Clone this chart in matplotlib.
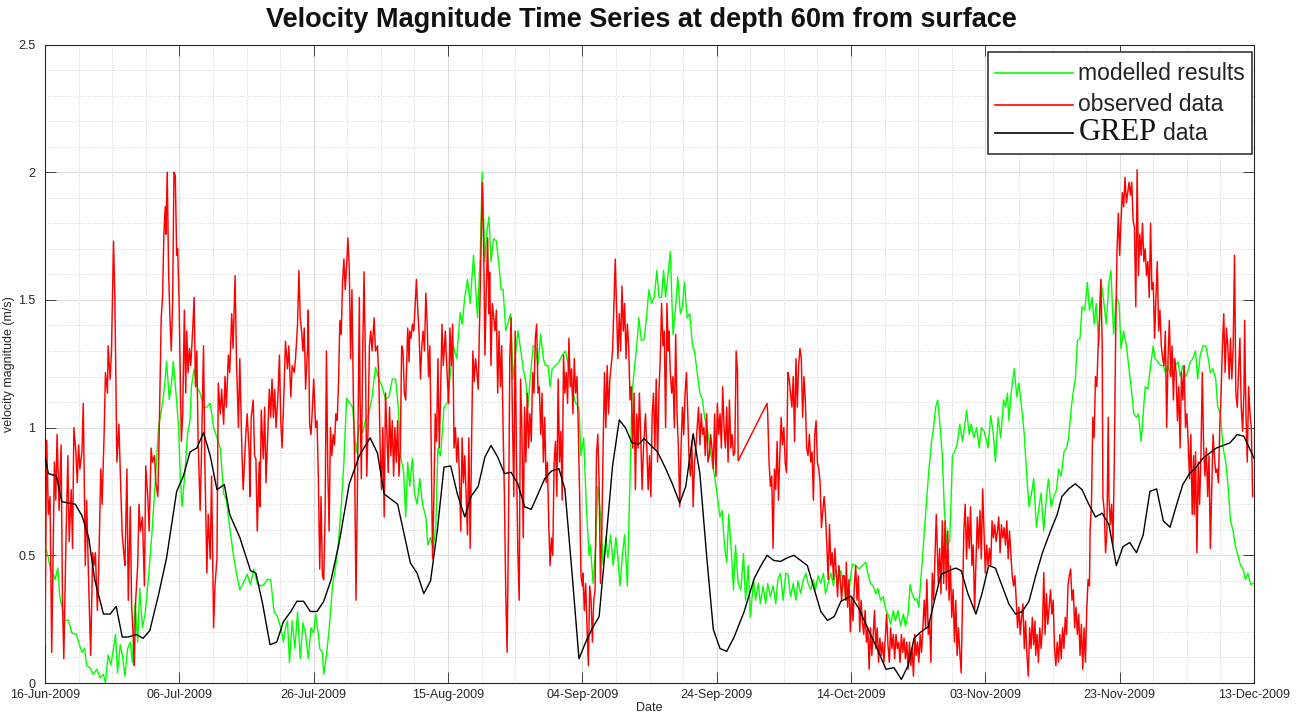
import datetime as dt
import numpy as np
import matplotlib
matplotlib.use("Agg")
import matplotlib.pyplot as plt
import matplotlib.dates as mdates
from matplotlib.lines import Line2D
from matplotlib.ticker import FuncFormatter, MultipleLocator
from matplotlib.offsetbox import (AnchoredOffsetbox, DrawingArea, HPacker,
                                  TextArea, VPacker)

plt.rcParams['font.family'] = ['Liberation Sans', 'DejaVu Sans']

# ---------------------------------------------------------------- data ----
# time is given in days after 16-Jun-2009 00:00
tick_labels = ['16-Jun-2009', '06-Jul-2009', '26-Jul-2009', '15-Aug-2009',
               '04-Sep-2009', '24-Sep-2009', '14-Oct-2009', '03-Nov-2009',
               '23-Nov-2009', '13-Dec-2009']
y_ticks = [0, 0.5, 1.0, 1.5, 2.0, 2.5]

# modelled results (green)
model_day = [
    0, 0.5, 0.75, 1.2, 1.5, 1.9, 2.2, 2.5, 3.0, 3.5, 4.0, 4.7, 5.0, 5.5, 5.9,
    6.2, 6.7, 7.2, 7.7, 8.2, 8.7, 9.0, 9.4, 9.8, 10.2, 10.5, 10.8, 11.2, 11.5,
    11.9, 12.3, 12.7, 13.0, 13.4, 13.8, 14.1, 14.5, 14.9, 15.4, 15.9, 16.4,
    16.9, 17.4, 17.8, 18.1, 18.5, 18.9, 19.1, 19.5, 19.9, 20.1, 20.4, 20.8,
    21.2, 21.6, 21.8, 22.2, 22.6, 23.1, 23.6, 24.1, 24.6, 25.1, 25.6, 26.1,
    26.6, 27.0, 27.5, 28.0, 28.5, 29.0, 29.5,
    30.1, 30.6, 31.1, 31.6, 32.1, 32.6, 33.1, 33.6, 34.1, 34.6, 35.1, 35.5,
    35.8, 36.1, 36.4, 36.8, 37.2, 37.6, 38.0, 38.4, 38.8, 39.2, 39.6, 40.0,
    40.3, 40.7, 40.9, 41.3, 41.5, 41.9, 42.3, 42.8, 43.3, 43.7, 44.1, 44.5,
    44.9, 45.4, 45.8, 46.3, 46.8, 47.3, 47.7, 48.2, 48.7, 49.2, 49.7, 50.2,
    50.7, 51.2, 51.7, 52.2, 52.6, 53.0, 53.4, 53.7, 54.0, 54.3, 54.7, 55.0,
    55.4, 55.8, 56.2, 56.7, 57.0, 57.4, 57.8, 58.2, 58.5, 58.9,
    59.4, 59.9, 60.3, 60.8, 61.3, 61.8, 62.1, 62.5, 62.9, 63.3, 63.8, 64.4,
    64.8, 65.1, 65.5, 65.8, 66.1, 66.4, 66.8, 67.2, 67.6, 67.9, 68.2, 68.6,
    68.9, 69.3, 69.7, 70.1, 70.4, 70.8, 71.2, 71.6, 71.9, 72.3, 72.7, 73.0,
    73.4, 73.8, 74.2, 74.5, 74.9, 75.2, 75.5, 76.0, 76.5, 77.0, 77.5, 78.0,
    78.5, 79.0, 79.5, 79.8, 80.2, 80.6, 81.0, 81.2, 81.6, 82.0, 82.3, 82.7,
    83.1, 83.5, 83.8, 84.2, 84.6, 85.0, 85.3, 85.6, 86.0, 86.3, 86.7, 87.1,
    87.4, 87.8, 88.2, 88.4, 88.8,
    89.2, 89.6, 89.9, 90.3, 90.7, 91.1, 91.4, 91.8, 92.1, 92.4, 92.8, 93.1,
    93.5, 93.9, 94.2, 94.6, 94.9, 95.2, 95.6, 96.0, 96.4, 96.7, 97.1, 97.5,
    97.9, 98.2, 98.6, 99.0, 99.4, 99.7, 100.1, 100.5, 100.8, 101.2, 101.5,
    101.8, 102.2, 102.5, 102.8, 103.2, 103.6, 104.0, 104.3, 104.7, 105.0,
    105.5, 105.8, 106.2, 106.5, 106.9, 107.3, 107.6, 108.0, 108.4, 108.8,
    109.1, 109.5, 109.9, 110.3, 110.6, 111.0, 111.4, 111.8, 112.1, 112.5,
    112.9, 113.3, 113.6, 114.0, 114.4, 114.7, 115.1, 115.5, 115.9, 116.2,
    116.6, 117.0, 117.4, 117.7, 118.1, 118.5, 118.9,
    119.3, 119.7, 120.2, 120.7, 121.2, 121.7, 122.2, 122.5, 122.9, 123.3,
    123.7, 124.0, 124.4, 124.8, 125.2, 125.5, 125.9, 126.3, 126.6, 127.0,
    127.4, 127.8, 128.1, 128.5, 128.8, 129.1, 129.5, 129.8, 130.1, 130.5,
    130.9, 131.3, 131.6, 132.0, 132.3, 132.6, 132.9, 133.2, 133.6, 133.9,
    134.3, 134.7, 135.1, 135.4, 135.8, 136.2, 136.6, 136.9, 137.2, 137.6,
    137.9, 138.3, 138.7, 139.1, 139.4, 139.8, 140.2, 140.4, 140.8, 141.2,
    141.5, 141.9, 142.3, 142.7, 143.0, 143.3, 143.5, 143.9, 144.3, 144.7,
    145.0, 145.4, 145.8, 146.1, 146.5, 146.8, 147.2, 147.6, 148.0, 148.3,
    148.7, 149.1, 149.4, 149.8, 150.2, 150.6, 150.9, 151.3, 151.7, 152.1,
    152.4, 152.8, 153.2, 153.4, 153.7, 154.1, 154.4, 154.8, 155.2, 155.5,
    155.9, 156.2, 156.5, 156.9, 157.2, 157.6, 158.0, 158.4, 158.7, 159.1,
    159.5, 159.9, 160.2, 160.6, 161.0, 161.4, 161.7, 162.1, 162.5, 162.8,
    163.2, 163.5, 163.8, 164.2, 164.6, 165.0, 165.3, 165.7, 166.1, 166.5,
    166.8, 167.2, 167.6, 168.0, 168.3, 168.7, 169.0, 169.4, 169.8, 170.1,
    170.5, 170.9, 171.3, 171.6, 172.0, 172.4, 172.8, 173.1, 173.5, 173.9,
    174.3, 174.6, 175.0, 175.4, 175.8, 176.1, 176.5, 176.9, 177.2, 177.6,
    178.0, 178.4, 178.7, 179.1, 179.5, 179.9]
model_vel = [
    0.54, 0.49, 0.45, 0.43, 0.405, 0.45, 0.34, 0.30, 0.245, 0.245, 0.196,
    0.19, 0.16, 0.12, 0.135, 0.068, 0.06, 0.034, 0.054, 0.02, 0.034, 0.0,
    0.11, 0.07, 0.135, 0.19, 0.04, 0.15, 0.11, 0.027, 0.135, 0.16, 0.08, 0.31,
    0.16, 0.37, 0.216, 0.27, 0.41, 0.58, 0.78, 1.0, 1.08, 1.16, 1.26, 1.11,
    1.19, 1.26, 1.135, 1.0, 0.84, 0.69, 0.81, 0.97, 1.03, 1.16, 1.23, 1.16,
    1.135, 1.08, 1.08, 1.095, 1.0, 0.96, 0.92, 0.74, 0.72, 0.61, 0.51, 0.43,
    0.365, 0.39,
    0.426, 0.385, 0.446, 0.39, 0.38, 0.385, 0.405, 0.405, 0.28, 0.26, 0.216,
    0.16, 0.216, 0.243, 0.08, 0.243, 0.135, 0.277, 0.095, 0.236, 0.19, 0.095,
    0.216, 0.196, 0.27, 0.19, 0.135, 0.12, 0.034, 0.108, 0.21, 0.38, 0.46,
    0.554, 0.69, 0.865, 1.115, 1.095, 1.08, 0.90, 1.01, 0.98, 1.027, 1.054,
    1.12, 1.236, 1.19, 1.16, 1.11, 1.12, 1.19, 1.19, 1.08, 0.88, 0.824, 0.65,
    0.865, 0.77, 0.88, 0.743, 0.70, 0.80, 0.70, 0.65, 0.54, 0.57, 0.527, 0.62,
    0.92, 0.89,
    1.08, 1.095, 1.2, 1.32, 1.27, 1.45, 1.405, 1.51, 1.58, 1.486, 1.675, 1.43,
    1.675, 2.0, 1.65, 1.77, 1.825, 1.65, 1.74, 1.73, 1.635, 1.54, 1.54, 1.38,
    1.405, 1.446, 1.19, 1.3, 1.38, 1.31, 1.23, 1.175, 1.08, 1.216, 1.32, 1.32,
    1.243, 1.365, 1.27, 1.243, 1.243, 1.16, 1.23, 1.243, 1.257, 1.284, 1.3,
    1.23, 1.15, 1.095, 1.08, 0.89, 0.96, 0.69, 0.5, 0.54, 0.39, 0.54, 0.77,
    0.66, 0.46, 0.57, 0.49, 0.58, 0.46, 0.57, 0.49, 0.38, 0.51, 0.58, 0.38,
    0.80, 1.135, 1.243, 1.35, 1.43, 1.34,
    1.345, 1.446, 1.54, 1.486, 1.51, 1.615, 1.51, 1.51, 1.615, 1.51, 1.615,
    1.69, 1.365, 1.473, 1.59, 1.446, 1.473, 1.57, 1.43, 1.446, 1.32, 1.3,
    1.216, 1.135, 1.108, 1.04, 1.0, 0.92, 0.85, 0.81, 0.73, 0.65, 0.676,
    0.527, 0.473, 0.66, 0.51, 0.365, 0.54, 0.39, 0.365, 0.507, 0.324, 0.46,
    0.257, 0.405, 0.324, 0.39, 0.31, 0.38, 0.31, 0.39, 0.338, 0.38, 0.31,
    0.405, 0.43, 0.324, 0.43, 0.426, 0.338, 0.39, 0.324, 0.40, 0.35, 0.405,
    0.43, 0.39, 0.365, 0.405, 0.365, 0.42, 0.39, 0.43, 0.35, 0.39, 0.43, 0.38,
    0.446, 0.39, 0.44, 0.38,
    0.324, 0.365, 0.466, 0.46, 0.446, 0.46, 0.473, 0.43, 0.39, 0.38, 0.35,
    0.37, 0.324, 0.338, 0.284, 0.27, 0.23, 0.284, 0.243, 0.284, 0.223, 0.27,
    0.223, 0.27, 0.385, 0.35, 0.324, 0.33, 0.297, 0.44, 0.58, 0.73, 0.838,
    0.946, 1.0, 1.08, 1.108, 1.027, 0.89, 0.676, 0.54, 0.554, 0.89, 0.905,
    0.932, 1.0135, 0.946, 1.0, 1.068, 0.973, 1.0135, 0.96, 1.0, 0.92, 1.0,
    0.986, 0.946, 0.92, 1.047, 0.973, 0.865, 1.04, 0.96, 1.108, 1.08, 1.135,
    1.027, 1.15, 1.23, 1.12, 1.175, 1.08, 0.973, 0.838, 0.69, 0.73, 0.80,
    0.61, 0.69, 0.743,
    0.595, 0.73, 0.80, 0.69, 0.73, 0.757, 0.838, 0.81, 0.905, 0.92, 0.96,
    1.08, 1.16, 1.19, 1.34, 1.35, 1.473, 1.46, 1.568, 1.46, 1.51, 1.405,
    1.486, 1.32, 1.58, 1.5, 1.405, 1.568, 1.615, 1.365, 1.51, 1.486, 1.31,
    1.378, 1.32, 1.23, 1.16, 1.054, 1.04, 1.054, 0.946, 1.054, 1.16, 1.15,
    1.243, 1.32, 1.27, 1.257, 1.243, 1.243, 1.216, 1.243, 1.2, 1.27, 1.243,
    1.257, 1.2, 1.243, 1.2, 1.216, 1.257, 1.27, 1.3, 1.19, 1.284, 1.32, 1.32,
    1.284, 1.216, 1.23, 1.19, 1.08, 1.054, 0.92, 0.865, 0.784, 0.635, 0.595,
    0.54, 0.5, 0.46, 0.446, 0.405, 0.43, 0.385, 0.39]

# observed data (red); the record has a gap between day 103.2 and 107.5
obs_day_jun = [
    0, 0.25, 0.5, 0.75, 1.0, 1.4, 1.6, 1.8, 2.1, 2.4, 2.6, 2.8, 3.1, 3.4, 3.6,
    3.9, 4.1, 4.3, 4.6, 4.8, 5.0, 5.2, 5.5, 5.7, 6.0, 6.2, 6.5, 6.6, 6.8, 7.1,
    7.3, 7.5, 7.8, 8.0, 8.3, 8.5, 8.8, 9.0, 9.3, 9.4, 9.7, 9.9, 10.2, 10.4,
    10.7, 11.0, 11.3, 11.5, 11.8, 11.9, 12.2, 12.4, 12.7, 12.9, 13.2, 13.3,
    13.5, 13.8, 14.0, 14.2, 14.5, 14.8, 15.0, 15.3, 15.5, 15.8, 16.0, 16.3,
    16.5, 16.8, 17.0, 17.3, 17.5, 17.7, 17.9, 18.0, 18.2, 18.4, 18.6, 18.8,
    19.0, 19.2, 19.4, 19.6, 19.75, 19.95, 20.15, 20.3, 20.5, 20.75, 20.95,
    21.1, 21.3, 21.5, 21.7, 22.0, 22.2, 22.4, 22.6, 22.8, 23.1, 23.3, 23.6,
    23.8, 24.1, 24.3, 24.6, 24.8, 25.1, 25.3, 25.6, 25.8, 26.1, 26.3, 26.6,
    26.8, 27.0, 27.3, 27.5, 27.8, 28.0, 28.3, 28.5, 28.8, 29.0, 29.3, 29.5]
obs_vel_jun = [
    0.15, 0.95, 0.66, 0.73, 0.12, 0.865, 0.716, 0.973, 0.676, 0.932, 0.324,
    0.095, 0.527, 0.89, 0.554, 0.757, 0.527, 1.0, 0.905, 0.784, 0.932, 0.838,
    0.905, 1.095, 0.46, 0.716, 0.39, 0.3, 0.108, 0.51, 0.46, 0.51, 0.284,
    0.446, 0.838, 0.70, 0.973, 1.216, 1.135, 1.32, 1.19, 1.3, 1.73, 1.51,
    0.865, 1.0135, 0.743, 0.58, 0.486, 0.46, 0.838, 0.324, 0.69, 0.297, 0.15,
    0.068, 0.324, 0.46, 0.70, 0.595, 0.65, 0.38, 0.85, 0.73, 0.595, 0.92,
    0.865, 0.89, 0.784, 0.73, 0.973, 1.43, 1.51, 1.757, 1.865, 1.757, 2.0,
    1.61, 1.43, 1.3, 1.486, 2.0, 1.986, 1.675, 1.70, 1.51, 1.2, 0.946, 1.054,
    1.46, 1.135, 1.378, 1.216, 1.31, 1.243, 1.39, 1.51, 1.16, 1.3, 0.946,
    0.676, 0.905, 1.32, 0.865, 0.43, 0.66, 0.486, 0.81, 0.216, 0.38, 0.486,
    1.175, 1.054, 1.15, 1.0135, 1.2, 1.08, 1.284, 1.216, 1.446, 1.31, 1.595,
    1.27, 1.0, 1.27, 0.92, 0.757]
obs_day_jul = [
    29.9, 30.1, 30.4, 30.5, 30.7, 31.0, 31.2, 31.4, 31.6, 31.9, 32.0, 32.2,
    32.5, 32.7, 32.9, 33.1, 33.4, 33.6, 33.8, 34.0, 34.2, 34.4, 34.7, 34.9,
    35.1, 35.3, 35.6, 35.8, 36.1, 36.3, 36.6, 36.8, 37.1, 37.3, 37.6, 37.8,
    38.0, 38.2, 38.4, 38.6, 38.8, 39.1, 39.2, 39.4, 39.6, 39.8, 40.0, 40.3,
    40.5, 40.7, 40.9, 41.1, 41.3, 41.5, 41.7, 41.9, 42.1, 42.3, 42.5, 42.7,
    42.9, 43.1, 43.3, 43.5, 43.7, 43.9, 44.1, 44.3, 44.5, 44.7, 44.9, 45.1,
    45.3, 45.5, 45.7, 45.9, 46.1, 46.3, 46.5, 46.8, 46.9, 47.1, 47.3, 47.5,
    47.7, 47.9, 48.1, 48.3, 48.5, 48.7, 49.0, 49.2, 49.5, 49.7, 49.9, 50.1,
    50.3, 50.5, 50.7, 50.9, 51.1, 51.3, 51.5, 51.7, 51.9, 52.1, 52.3, 52.5,
    52.7, 52.9, 53.1, 53.3, 53.5, 53.7, 54.0, 54.2, 54.3, 54.5, 54.7, 54.9,
    55.1, 55.3, 55.5, 55.7, 55.9, 56.1, 56.3, 56.5, 56.7, 56.9, 57.1, 57.3,
    57.5, 57.7, 57.9, 58.1, 58.3, 58.5, 58.7, 58.9, 59.1, 59.3]
obs_vel_jul = [
    0.973, 1.054, 0.905, 0.73, 1.04, 1.108, 0.89, 0.878, 0.595, 0.865, 0.69,
    1.068, 0.878, 1.08, 0.784, 0.932, 1.15, 1.04, 1.19, 1.04, 1.15, 1.0,
    1.135, 1.284, 1.027, 0.92, 1.16, 1.338, 1.23, 1.32, 1.12, 1.243, 1.216,
    1.27, 1.405, 1.615, 1.43, 1.378, 1.3, 1.39, 1.15, 1.32, 1.46, 1.0135,
    0.973, 1.068, 1.19, 1.0, 1.027, 0.8, 0.446, 0.73, 0.42, 0.405, 0.65, 1.3,
    0.838, 0.595, 1.0, 0.89, 0.973, 0.932, 1.054, 1.027, 1.175, 1.42, 1.365,
    1.568, 1.66, 1.54, 1.635, 1.743, 1.62, 1.27, 1.54, 1.135, 0.865, 0.324,
    0.73, 1.51, 1.135, 0.8, 1.3, 1.61, 1.27, 0.81, 1.0, 1.32, 1.378, 1.3,
    1.43, 1.3, 1.32, 1.19, 0.92, 0.757, 1.0, 0.65, 1.135, 0.973, 0.824, 1.08,
    0.89, 1.027, 0.81, 1.0, 0.865, 1.027, 0.81, 0.92, 1.32, 1.3, 1.135,
    1.108, 1.39, 1.257, 1.378, 1.35, 1.405, 1.378, 1.473, 1.58, 1.46, 1.365,
    1.19, 1.32, 1.378, 1.3, 1.527, 1.405, 1.2, 1.32, 0.92, 0.486, 0.73,
    1.054, 0.946, 1.27, 0.92, 1.135, 1.405, 1.243]
obs_day_aug = [
    59.6, 59.9, 60.1, 60.3, 60.5, 60.7, 60.9, 61.1, 61.3, 61.5, 61.7, 61.9,
    62.1, 62.3, 62.5, 62.7, 62.9, 63.1, 63.3, 63.5, 63.7, 63.9, 64.1, 64.3,
    64.5, 64.7, 64.9, 65.1, 65.3, 65.5, 65.7, 65.9, 66.1, 66.2, 66.4, 66.6,
    66.8, 67.0, 67.2, 67.4, 67.6, 67.8, 68.0, 68.2, 68.4, 68.6, 68.8, 69.0,
    69.2, 69.4, 69.6, 69.8, 70.0, 70.2, 70.4, 70.6, 70.8, 71.0, 71.2, 71.4,
    71.6, 71.8, 72.0, 72.2, 72.4, 72.6, 72.8, 73.0, 73.2, 73.4, 73.6, 73.8,
    74.0, 74.2, 74.4, 74.6, 74.8, 75.0, 75.2, 75.4, 75.6, 75.8, 76.0, 76.2,
    76.4, 76.6, 76.8, 77.0, 77.2, 77.4, 77.6, 77.8, 78.0, 78.2, 78.4, 78.6,
    78.8, 79.0, 79.2, 79.4, 79.6, 79.8, 80.0, 80.1, 80.3, 80.5, 80.7, 80.9,
    81.1, 81.3, 81.5, 81.7, 81.9, 82.1, 82.3, 82.5, 82.7, 82.9, 83.1, 83.3,
    83.5, 83.7, 83.9, 84.1, 84.3, 84.5, 84.7, 84.9, 85.1, 85.3, 85.5, 85.7,
    85.9, 86.1, 86.3, 86.5, 86.7, 86.9, 87.1, 87.3, 87.5, 87.7, 87.9, 88.1,
    88.3, 88.5, 88.7, 88.9, 89.1]
obs_vel_aug = [
    1.378, 1.19, 1.095, 1.39, 1.243, 1.405, 0.92, 1.0, 0.865, 0.96, 0.81,
    0.595, 0.96, 0.784, 0.89, 0.73, 0.58, 0.96, 0.527, 0.92, 1.3, 1.18, 1.27,
    1.216, 1.15, 1.405, 1.675, 1.96, 1.73, 1.284, 1.54, 1.743, 1.446, 1.608,
    1.243, 1.486, 1.43, 1.378, 1.46, 1.135, 1.378, 1.16, 1.32, 1.0, 0.73,
    0.35, 0.12, 0.595, 1.27, 1.43, 1.027, 0.73, 1.378, 0.865, 0.51, 0.324,
    1.19, 1.0, 0.568, 1.08, 0.865, 1.135, 0.92, 1.054, 0.946, 1.216, 1.135,
    1.35, 1.405, 1.135, 1.16, 0.973, 1.135, 0.865, 1.04, 0.784, 0.865, 0.62,
    0.46, 0.568, 0.5, 0.865, 0.946, 0.73, 1.19, 0.865, 0.986, 0.716, 1.284,
    1.135, 1.216, 1.095, 1.35, 1.16, 1.23, 1.054, 1.27, 1.135, 1.2, 1.0, 0.73,
    0.42, 0.38, 0.43, 0.284, 0.39, 0.216, 0.068, 0.38, 0.324, 0.16, 0.324,
    0.365, 0.89, 0.973, 0.784, 0.39, 0.595, 0.932, 1.216, 1.0, 1.243, 1.054,
    1.19, 1.243, 1.3, 1.486, 1.66, 1.46, 1.27, 1.446, 1.3, 1.554, 1.378,
    1.486, 1.27, 1.405, 1.32, 1.108, 1.16, 0.92, 1.135, 0.757, 1.054, 0.92,
    1.135, 0.96, 0.757, 0.92]
obs_day_sep = [
    89.4, 89.6, 89.8, 90.0, 90.2, 90.4, 90.6, 90.8, 91.0, 91.2, 91.4, 91.6,
    91.8, 92.0, 92.2, 92.4, 92.6, 92.8, 92.9, 93.1, 93.3, 93.5, 93.7, 93.9,
    94.1, 94.3, 94.5, 94.7, 94.9, 95.1, 95.3, 95.5, 95.7, 95.9, 96.1, 96.3,
    96.5, 96.7, 96.9, 97.1, 97.3, 97.5, 97.7, 97.9, 98.1, 98.3, 98.5, 98.7,
    98.9, 99.1, 99.3, 99.5, 99.7, 99.9, 100.1, 100.3, 100.5, 100.7, 100.9,
    101.1, 101.3, 101.5, 101.7, 101.9, 102.1, 102.3, 102.5, 102.7, 102.9,
    103.1, 103.2,
    107.5, 107.6, 107.8, 108.0, 108.2, 108.4, 108.6, 108.8, 109.0, 109.2,
    109.4, 109.6, 109.8, 110.0, 110.2, 110.4, 110.6, 110.8, 111.0, 111.2,
    111.4, 111.6, 111.8, 112.0, 112.2, 112.4, 112.6, 112.8, 113.0, 113.2,
    113.4, 113.6, 113.8, 114.0, 114.2, 114.4, 114.6, 114.8, 115.0, 115.2,
    115.4, 115.6, 115.8, 116.0, 116.2, 116.4, 116.6, 116.8, 117.0, 117.2,
    117.4, 117.6, 117.8, 118.0, 118.2, 118.4, 118.6, 118.8]
obs_vel_sep = [
    1.054, 0.92, 0.757, 0.89, 0.73, 1.054, 1.135, 0.92, 1.19, 0.865, 1.135,
    1.27, 1.486, 1.32, 1.378, 1.0, 1.486, 1.3, 1.378, 1.216, 1.135, 1.2, 1.0,
    1.365, 1.054, 0.92, 0.69, 0.92, 1.08, 0.973, 1.135, 1.216, 1.054, 0.865,
    0.81, 0.946, 0.69, 0.865, 0.92, 1.0, 1.08, 0.932, 1.054, 0.973, 1.0,
    0.89, 1.054, 0.865, 0.89, 0.973, 0.92, 0.838, 1.054, 0.81, 1.095, 0.973,
    1.054, 0.92, 1.16, 1.0, 0.92, 1.08, 0.865, 1.108, 0.92, 0.973, 0.89,
    0.905, 1.3, 1.216, 0.87,
    1.095, 1.054, 0.865, 0.77, 0.81, 0.527, 0.838, 0.757, 0.946, 0.716, 0.89,
    1.04, 0.932, 1.0, 0.865, 0.824, 1.216, 1.19, 1.135, 1.08, 1.2, 0.946,
    1.27, 1.08, 1.243, 1.31, 1.27, 1.04, 1.2, 1.108, 0.92, 0.89, 0.973,
    0.865, 0.905, 0.716, 0.973, 1.027, 0.865, 0.838, 0.784, 0.608, 0.676,
    0.73, 0.66, 0.54, 0.405, 0.62, 0.46, 0.51, 0.405, 0.527, 0.43, 0.338,
    0.46, 0.405, 0.324, 0.42]
obs_day_oct = [
    119.0, 119.2, 119.3, 119.5, 119.7, 119.9, 120.1, 120.3, 120.5, 120.7,
    120.9, 121.1, 121.3, 121.5, 121.7, 121.9, 122.1, 122.3, 122.5, 122.7,
    122.9, 123.1, 123.3, 123.5, 123.7, 123.9, 124.1, 124.3, 124.5, 124.7,
    124.9, 125.1, 125.3, 125.5, 125.7, 125.9, 126.1, 126.3, 126.5, 126.7,
    126.9, 127.1, 127.3, 127.5, 127.7, 127.9, 128.1, 128.3, 128.5, 128.7,
    128.9, 129.1, 129.3, 129.5, 129.7, 129.9, 130.1, 130.3, 130.5, 130.7,
    130.9, 131.1, 131.3, 131.5, 131.7, 131.9, 132.1, 132.3, 132.5, 132.7,
    132.9, 133.0, 133.2, 133.4, 133.6, 133.8, 134.0, 134.2, 134.4, 134.6,
    134.8, 135.0, 135.2, 135.4, 135.6, 135.8, 136.0, 136.2, 136.4, 136.6,
    136.8, 137.0, 137.2, 137.4, 137.6, 137.8, 138.0, 138.2, 138.4, 138.6,
    138.8, 139.0, 139.2, 139.4, 139.6, 139.8, 140.0, 140.2, 140.4, 140.6,
    140.8, 141.0, 141.2, 141.4, 141.6, 141.8, 142.0, 142.2, 142.4, 142.6,
    142.8, 143.0, 143.2, 143.4, 143.6, 143.8, 144.0, 144.2, 144.4, 144.6,
    144.8, 145.0, 145.2, 145.4, 145.6, 145.8, 146.0, 146.2, 146.4, 146.6,
    146.8, 147.0, 147.2, 147.4, 147.5, 147.7, 147.9, 148.1, 148.3, 148.5]
obs_vel_oct = [
    0.42, 0.324, 0.473, 0.297, 0.405, 0.2, 0.338, 0.243, 0.38, 0.46, 0.324,
    0.42, 0.2, 0.324, 0.243, 0.19, 0.284, 0.16, 0.216, 0.054, 0.216, 0.108,
    0.19, 0.284, 0.135, 0.216, 0.081, 0.176, 0.108, 0.16, 0.081, 0.176, 0.27,
    0.15, 0.081, 0.216, 0.135, 0.19, 0.095, 0.19, 0.135, 0.16, 0.081, 0.19,
    0.12, 0.176, 0.095, 0.16, 0.054, 0.16, 0.068, 0.135, 0.027, 0.19, 0.108,
    0.16, 0.081, 0.19, 0.12, 0.216, 0.324, 0.216, 0.405, 0.19, 0.243, 0.081,
    0.43, 0.324, 0.486, 0.66, 0.486, 0.39, 0.527, 0.35, 0.635, 0.39, 0.635,
    0.365, 0.595, 0.324, 0.46, 0.257, 0.365, 0.16, 0.324, 0.108, 0.216, 0.12,
    0.04, 0.324, 0.595, 0.70, 0.486, 0.65, 0.527, 0.69, 0.46, 0.54, 0.284,
    0.46, 0.65, 0.527, 0.676, 0.486, 0.76, 0.595, 0.43, 0.54, 0.46, 0.527,
    0.46, 0.635, 0.568, 0.62, 0.554, 0.595, 0.65, 0.51, 0.62, 0.568, 0.608,
    0.54, 0.635, 0.486, 0.595, 0.51, 0.42, 0.38, 0.42, 0.324, 0.216, 0.297,
    0.19, 0.257, 0.31, 0.135, 0.243, 0.108, 0.027, 0.216, 0.135, 0.257, 0.15,
    0.243, 0.108, 0.19, 0.081, 0.216, 0.135, 0.216]
obs_day_nov = [
    148.7, 148.9, 149.1, 149.3, 149.5, 149.7, 149.9, 150.1, 150.3, 150.5,
    150.7, 150.9, 151.1, 151.3, 151.5, 151.7, 151.9, 152.1, 152.3, 152.5,
    152.7, 152.9, 153.1, 153.3, 153.5, 153.7, 153.9, 154.1, 154.3, 154.5,
    154.7, 154.9, 155.1, 155.3, 155.5, 155.6, 155.8, 156.0, 156.2, 156.4,
    156.6, 156.8, 157.0, 157.2, 157.4, 157.5, 157.7, 157.9, 158.1, 158.3,
    158.4, 158.6, 158.8, 159.0, 159.2, 159.4, 159.6, 159.8, 160.0, 160.2,
    160.4, 160.6, 160.8, 161.0, 161.2, 161.4, 161.6, 161.8, 162.0, 162.2,
    162.4, 162.6, 162.8, 163.0, 163.2, 163.4, 163.6, 163.8, 164.0, 164.2,
    164.4, 164.6, 164.8, 165.0, 165.2, 165.4, 165.6, 165.8, 166.0, 166.2,
    166.4, 166.6, 166.8, 167.0, 167.2, 167.4, 167.6, 167.8, 168.0, 168.2,
    168.4, 168.6, 168.8, 169.0, 169.2, 169.4, 169.6, 169.8, 170.0, 170.2,
    170.4, 170.6, 170.8, 171.0, 171.1, 171.3, 171.5, 171.7, 171.9, 172.1,
    172.3, 172.5, 172.7, 172.9, 173.1, 173.3, 173.5, 173.7, 173.9, 174.1,
    174.3, 174.5, 174.7, 174.9, 175.1, 175.3, 175.5, 175.7, 175.9, 176.1,
    176.3, 176.5, 176.7, 176.9, 177.1, 177.3, 177.5, 177.7, 177.9, 178.1,
    178.3, 178.5, 178.6, 178.8, 179.0, 179.2, 179.4, 179.6, 179.8]
obs_vel_nov = [
    0.432, 0.19, 0.35, 0.23, 0.297, 0.365, 0.27, 0.324, 0.135, 0.068, 0.16,
    0.081, 0.19, 0.095, 0.216, 0.135, 0.257, 0.19, 0.38, 0.42, 0.446, 0.324,
    0.365, 0.216, 0.297, 0.19, 0.27, 0.108, 0.23, 0.054, 0.216, 0.081, 0.284,
    0.405, 0.38, 0.595, 0.70, 1.04, 0.96, 1.2, 1.16, 1.32, 1.43, 1.58, 1.32,
    0.73, 0.676, 0.51, 0.595, 1.04, 0.73, 0.62, 0.70, 0.54, 0.865, 1.35,
    1.69, 1.84, 1.675, 1.81, 1.92, 1.865, 1.98, 1.88, 1.92, 1.96, 1.91, 1.96,
    1.81, 1.784, 1.473, 2.01, 1.595, 1.757, 1.675, 1.8, 1.65, 1.70, 1.595,
    1.65, 1.51, 1.8, 1.54, 1.568, 1.35, 1.51, 1.65, 1.378, 1.46, 1.32, 1.27,
    1.243, 1.378, 1.0, 1.27, 1.42, 1.2, 1.32, 1.108, 1.27, 1.216, 1.027,
    1.16, 0.92, 1.216, 1.108, 1.243, 1.0, 1.054, 0.946, 0.8, 0.973, 0.66,
    0.89, 0.66, 0.905, 0.51, 0.865, 0.70, 0.89, 1.216, 0.92, 0.81, 0.92,
    0.73, 0.89, 0.527, 0.743, 0.973, 0.89, 0.824, 0.838, 0.784, 1.0, 1.135,
    1.32, 1.446, 1.216, 1.39, 1.32, 1.19, 1.35, 1.19, 1.32, 1.675, 1.135,
    1.08, 1.216, 1.35, 1.08, 0.986, 1.135, 1.42, 1.054, 0.865, 1.16, 1.054,
    1.0, 0.73]

# GREP data (black)
grep_day = [
    0, 0.5, 1.7, 2.5, 4.5, 5.5, 6.5, 7.4, 8.7, 9.7, 10.6, 11.5, 12.4, 13.6,
    14.6, 15.6, 16.9, 18.1, 19.6, 20.6, 21.6, 22.6, 23.6, 24.6, 25.6, 26.7,
    27.5, 29.0, 30.6, 31.4, 32.4, 33.5, 34.5, 35.5, 36.6, 37.5, 38.5, 39.5,
    40.5, 41.5, 42.6, 43.8, 45.3, 46.8, 48.4, 49.5, 50.5, 52.5, 54.4, 55.4,
    56.4, 57.4, 58.4, 59.4, 60.4, 61.4, 62.5, 63.4, 64.5, 65.5, 66.4, 67.4,
    68.4, 69.4, 70.4, 71.4, 72.4, 73.4, 74.4, 75.4, 76.5, 77.4, 78.5, 79.5,
    80.5, 81.5, 82.5, 83.5, 84.5, 85.5, 86.4, 87.4, 88.4, 89.2, 90.2, 91.2,
    92.4, 93.4, 94.5, 95.4, 96.5, 97.5, 98.5, 99.5, 100.5, 101.5, 102.6,
    104.1, 105.6, 106.6, 107.5, 108.5, 109.5, 110.5, 111.5, 112.5, 113.5,
    114.5, 115.5, 116.5, 117.5, 118.5, 120.0, 121.2, 122.4, 124.0, 125.2,
    126.4, 127.5, 128.5, 129.4, 130.4, 131.5, 132.4, 133.4, 134.6, 135.6,
    136.4, 137.4, 138.6, 139.5, 140.5, 141.5, 142.5, 143.5, 144.5, 145.5,
    146.5, 147.5, 148.5, 149.7, 150.7, 151.4, 152.4, 153.4, 154.4, 155.4,
    156.4, 157.4, 158.4, 159.5, 160.5, 161.5, 162.5, 163.5, 164.5, 165.5,
    166.5, 167.5, 168.5, 169.4, 170.4, 171.4, 172.4, 173.4, 174.4, 175.4,
    176.4, 177.5, 178.5, 180.0]
grep_vel = [
    0.885, 0.82, 0.81, 0.71, 0.70, 0.655, 0.57, 0.405, 0.27, 0.27, 0.30, 0.18,
    0.18, 0.19, 0.175, 0.205, 0.345, 0.49, 0.75, 0.81, 0.905, 0.92, 0.98,
    0.89, 0.757, 0.777, 0.66, 0.57, 0.44, 0.43, 0.31, 0.15, 0.16, 0.24, 0.28,
    0.32, 0.32, 0.28, 0.28, 0.32, 0.405, 0.55, 0.78, 0.89, 0.96, 0.90, 0.74,
    0.70, 0.47, 0.43, 0.35, 0.40, 0.595, 0.845, 0.85, 0.74, 0.65, 0.73, 0.77,
    0.885, 0.93, 0.885, 0.82, 0.825, 0.78, 0.69, 0.68, 0.74, 0.80, 0.83,
    0.84, 0.76, 0.42, 0.095, 0.16, 0.215, 0.26, 0.55, 0.85, 1.03, 1.0, 0.94,
    0.935, 0.957, 0.93, 0.905, 0.84, 0.78, 0.705, 0.77, 0.976, 0.82, 0.50,
    0.21, 0.135, 0.124, 0.18, 0.28, 0.41, 0.46, 0.50, 0.48, 0.476, 0.49,
    0.50, 0.48, 0.46, 0.37, 0.28, 0.245, 0.26, 0.32, 0.34, 0.29, 0.22, 0.128,
    0.054, 0.06, 0.014, 0.068, 0.176, 0.20, 0.22, 0.32, 0.425, 0.44, 0.45,
    0.44, 0.35, 0.27, 0.35, 0.46, 0.45, 0.38, 0.31, 0.27, 0.28, 0.32, 0.42,
    0.51, 0.595, 0.66, 0.73, 0.76, 0.78, 0.757, 0.70, 0.65, 0.665, 0.62,
    0.46, 0.534, 0.55, 0.51, 0.58, 0.75, 0.76, 0.635, 0.61, 0.70, 0.777,
    0.82, 0.845, 0.88, 0.90, 0.92, 0.93, 0.94, 0.973, 0.966, 0.88]

# ---------------------------------------------------------------- helpers --
START = np.datetime64('2009-06-16T00:00')


def to_dates(days):
    minutes = np.round(np.asarray(days, dtype=float) * 1440).astype('int64')
    return START + minutes.astype('timedelta64[m]')


obs_day = (obs_day_jun + obs_day_jul + obs_day_aug + obs_day_sep
           + obs_day_oct + obs_day_nov)
obs_vel = (obs_vel_jun + obs_vel_jul + obs_vel_aug + obs_vel_sep
           + obs_vel_oct + obs_vel_nov)

tick_dates = [dt.datetime.strptime(s, '%d-%b-%Y') for s in tick_labels]
minor_dates = to_dates(np.arange(0, 181, 5))

# ---------------------------------------------------------------- figure ---
fig = plt.figure(figsize=(12.98, 7.15), dpi=100)
ax = fig.add_axes([45 / 1298, 32 / 715, 1209 / 1298, 638.5 / 715])

ax.plot(to_dates(model_day), model_vel, color='#00ff00', lw=1.0, zorder=3)
ax.plot(to_dates(obs_day), obs_vel, color='#ff0000', lw=1.05, zorder=4)
ax.plot(to_dates(grep_day), grep_vel, color='#000000', lw=1.0, zorder=5)

ax.set_xlim(tick_dates[0], tick_dates[-1])
ax.set_ylim(y_ticks[0], y_ticks[-1])
ax.set_xticks(tick_dates)
ax.xaxis.set_major_formatter(mdates.DateFormatter('%d-%b-%Y'))
ax.set_xticks(minor_dates, minor=True)
ax.set_yticks(y_ticks)
ax.yaxis.set_major_formatter(FuncFormatter(lambda v, p: f'{v:g}'))
ax.yaxis.set_minor_locator(MultipleLocator(0.1))

dark = '#262626'
ax.tick_params(which='major', direction='in', length=8, width=0.6,
               top=True, right=True, color=dark, labelcolor=dark,
               labelsize=9)
ax.tick_params(axis='x', which='major', pad=4)
ax.tick_params(axis='y', which='major', pad=7)
ax.tick_params(which='minor', length=0, top=True, right=True)
for s in ax.spines.values():
    s.set_color(dark)
    s.set_linewidth(0.8)

ax.grid(which='major', color='#dedede', linestyle='-', linewidth=0.8)
ax.grid(which='minor', color='#c4c4c4', linestyle=(0, (1, 2)), linewidth=0.6)
ax.set_axisbelow(True)

ax.set_xlabel('Date', fontsize=9, color=dark, labelpad=1)
ax.set_ylabel('velocity magnitude (m/s)', fontsize=9, color=dark)
ax.yaxis.set_label_coords(-30 / 1209, 0.5)

fig.text(641.5 / 1298, 1 - 20 / 715,
         'Velocity Magnitude Time Series at depth 60m from surface',
         ha='center', va='center', fontsize=19.5, fontweight='bold',
         color='#111111')

# ---------------------------------------------------------------- legend ---
def handle(color):
    da = DrawingArea(56, 14, 0, 0)
    da.add_artist(Line2D([0, 56], [7, 7], color=color, lw=1.2))
    return da


sans = dict(fontsize=16.5, color='#222222', family=['Liberation Sans'])
serif = dict(fontsize=22, color='#111111', family=['Liberation Serif'])
row_model = HPacker(children=[handle('#00ff00'),
                              TextArea('modelled results', textprops=sans)],
                    align='center', pad=0, sep=4)
row_obs = HPacker(children=[handle('#ff0000'),
                            TextArea('observed data', textprops=sans)],
                  align='center', pad=0, sep=4)
row_grep = HPacker(children=[handle('#000000'),
                             HPacker(children=[TextArea('GREP',
                                                        textprops=serif),
                                               TextArea('data',
                                                        textprops=sans)],
                                     align='baseline', pad=0, sep=5)],
                   align='center', pad=0, sep=4)
upper_rows = VPacker(children=[row_model, row_obs], align='left', pad=0,
                     sep=6)
box = VPacker(children=[DrawingArea(1, 0.5), upper_rows, row_grep],
              align='left', pad=0, sep=1.5)
leg = AnchoredOffsetbox(loc='upper right', child=box, pad=0.5,
                        borderpad=0, frameon=True, prop=dict(size=10),
                        bbox_to_anchor=(1252 / 1298, 1 - 52 / 715),
                        bbox_transform=fig.transFigure)
leg.patch.set_edgecolor(dark)
leg.patch.set_linewidth(1.1)
leg.patch.set_facecolor('white')
leg.set_zorder(10)
ax.add_artist(leg)

fig.savefig('out.png', dpi=100)
